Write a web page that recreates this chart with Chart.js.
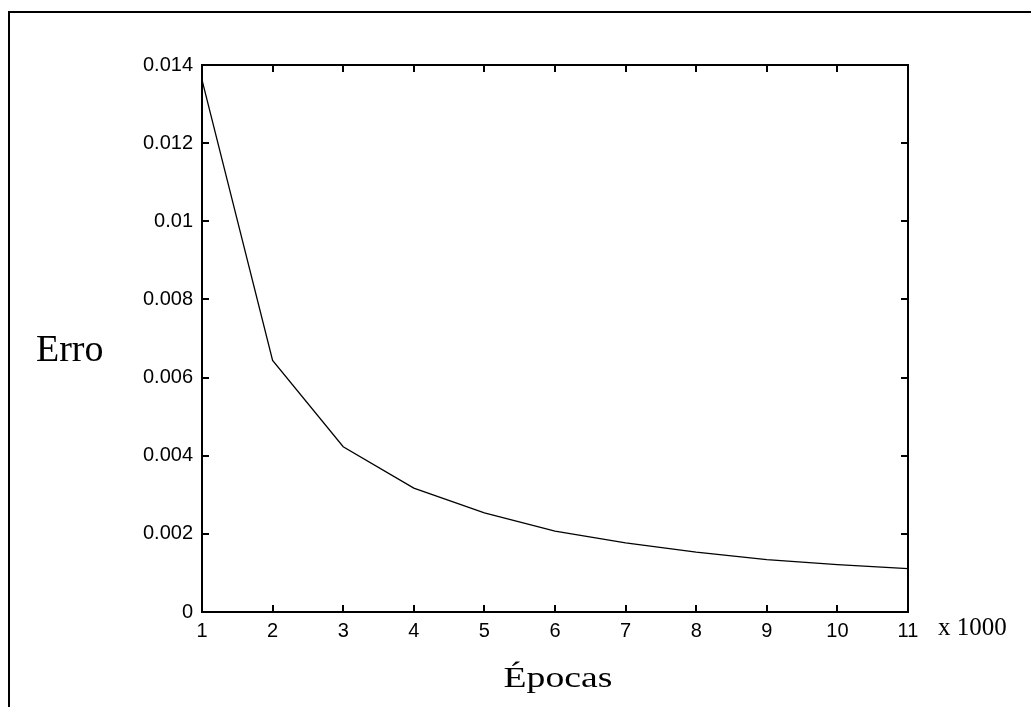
<!DOCTYPE html>
<html>
<head>
<meta charset="utf-8">
<script src="https://cdn.jsdelivr.net/npm/chart.js@4/dist/chart.umd.min.js"></script>
<style>
  html, body { margin: 0; padding: 0; background: #fff; }
  #wrap { width: 1031px; height: 707px; }
</style>
</head>
<body>
<div id="wrap"><canvas id="c" width="1031" height="707"></canvas></div>
<script>
// Epochs (x 1000)
const epochs = [1, 2, 3, 4, 5, 6, 7, 8, 9, 10, 11];
// Training error
const errorValues = [0.01362, 0.00644, 0.00423, 0.00317, 0.00254, 0.00207, 0.00177, 0.00153, 0.00134, 0.00121, 0.00111];
// Tick labels
const xTickLabels = ['1', '2', '3', '4', '5', '6', '7', '8', '9', '10', '11'];
const yTickLabels = ['0', '0.002', '0.004', '0.006', '0.008', '0.01', '0.012', '0.014'];
const yLabel = 'Erro';
const xLabel = 'Épocas';
const xUnit = 'x 1000';

const decorPlugin = {
  id: 'decor',
  afterDraw(chart) {
    const ctx = chart.ctx;
    const a = chart.chartArea;
    const xs = chart.scales.x, ys = chart.scales.y;
    ctx.save();
    // outer frame (left + top)
    ctx.strokeStyle = '#000';
    ctx.lineWidth = 2;
    ctx.beginPath();
    ctx.moveTo(9, 707);
    ctx.lineTo(9, 12);
    ctx.lineTo(1031, 12);
    ctx.stroke();
    // plot box
    ctx.strokeRect(a.left, a.top, a.right - a.left, a.bottom - a.top);
    // inward ticks
    const tl = 7;
    ctx.lineWidth = 2;
    ctx.beginPath();
    xs.ticks.forEach(t => {
      const px = Math.round(xs.getPixelForValue(t.value));
      ctx.moveTo(px, a.bottom); ctx.lineTo(px, a.bottom - tl);
      ctx.moveTo(px, a.top); ctx.lineTo(px, a.top + tl);
    });
    ys.ticks.forEach(t => {
      const py = Math.round(ys.getPixelForValue(t.value));
      ctx.moveTo(a.left, py); ctx.lineTo(a.left + tl, py);
      ctx.moveTo(a.right, py); ctx.lineTo(a.right - tl, py);
    });
    ctx.stroke();
    // texts
    ctx.fillStyle = '#000';
    ctx.textBaseline = 'alphabetic';
    ctx.textAlign = 'left';
    ctx.font = '38px "Liberation Serif"';
    ctx.fillText(yLabel, 36, 361);
    ctx.font = '25px "Liberation Serif"';
    ctx.fillText(xUnit, 938, 635);
    ctx.save();
    ctx.translate((a.left + a.right) / 2 + 3, 687);
    ctx.scale(1.3, 1);
    ctx.textAlign = 'center';
    ctx.font = '29px "Liberation Serif"';
    ctx.fillText(xLabel, 0, 0);
    ctx.restore();
    ctx.restore();
  }
};

new Chart(document.getElementById('c'), {
  type: 'line',
  data: {
    datasets: [{
      data: epochs.map((e, i) => ({ x: e, y: errorValues[i] })),
      borderColor: '#000',
      borderWidth: 1.3,
      pointRadius: 0,
      tension: 0,
      fill: false
    }]
  },
  options: {
    responsive: false,
    devicePixelRatio: 1,
    animation: false,
    layout: { padding: { left: 0, top: 65, right: 123, bottom: 0 } },
    plugins: { legend: { display: false }, tooltip: { enabled: false } },
    scales: {
      x: {
        type: 'linear',
        min: 1, max: 11,
        grid: { display: false, drawTicks: false },
        border: { display: false },
        afterFit(s) { s.height = 95; },
        ticks: {
          stepSize: 1,
          padding: 7,
          color: '#000',
          font: { family: '"Liberation Sans"', size: 20 },
          callback: (v, i) => xTickLabels[i]
        }
      },
      y: {
        min: 0, max: 0.014,
        grid: { display: false, drawTicks: false },
        border: { display: false },
        afterFit(s) { s.width = 202; },
        ticks: {
          stepSize: 0.002,
          padding: 9,
          color: '#000',
          font: { family: '"Liberation Sans"', size: 20 },
          callback: (v, i) => yTickLabels[i]
        }
      }
    }
  },
  plugins: [decorPlugin]
});
</script>
</body>
</html>
